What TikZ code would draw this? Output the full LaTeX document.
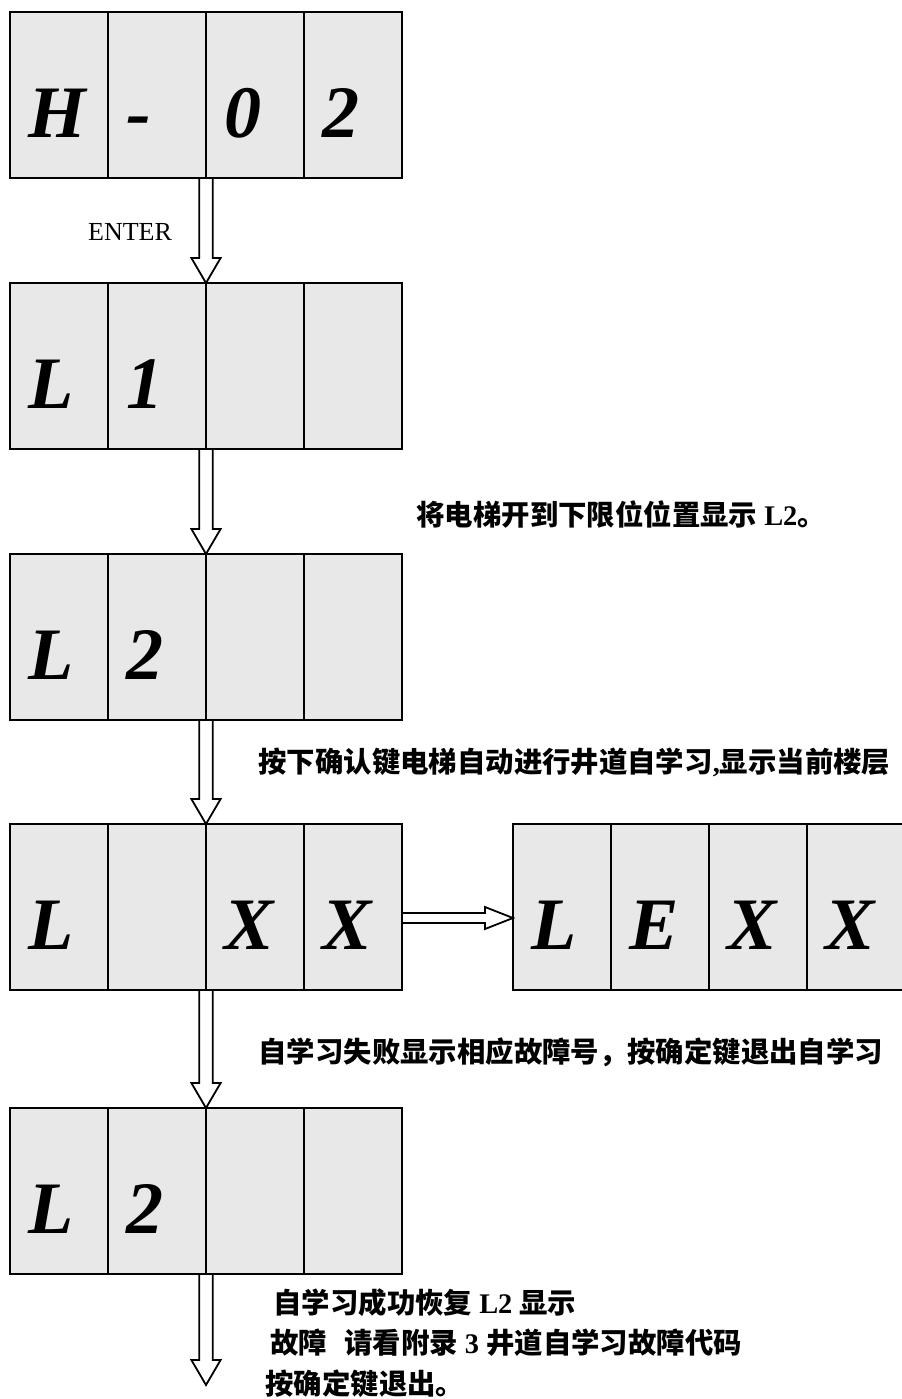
\documentclass[tikz,border=0pt]{standalone}
\usepackage{fontspec}
\setmainfont{Liberation Serif}
\newfontfamily\cjk{Noto Sans CJK SC}
\usetikzlibrary{positioning,calc}
\definecolor{cellgrey}{RGB}{232,232,232}

% hollow block arrows between the displays
\newcommand{\downflow}[2]{%
  \draw[flowline] let \p1=(#1), \p2=(#2) in
    (\x1-3.4pt,\y1) -- (\x1-3.4pt,\y2+12.5pt) -- (\x1-7.3pt,\y2+12.5pt) -- (\x1,\y2)
    -- (\x1+7.3pt,\y2+12.5pt) -- (\x1+3.4pt,\y2+12.5pt) -- (\x1+3.4pt,\y1);}
\newcommand{\rightflow}[2]{%
  \draw[flowline] let \p1=(#1), \p2=(#2) in
    (\x1,\y1+2.5pt) -- (\x2-14pt,\y1+2.5pt) -- (\x2-14pt,\y1+5.5pt) -- (\x2,\y1)
    -- (\x2-14pt,\y1-5.5pt) -- (\x2-14pt,\y1-2.5pt) -- (\x1,\y1-2.5pt);}

\begin{document}
\begin{tikzpicture}[
    digit/.style={draw, line width=1pt, fill=cellgrey, outer sep=0pt,
        minimum width=49pt, minimum height=83pt, inner xsep=9pt,
        text width=31pt, align=left, text height=42pt, text depth=0pt,
        font=\fontsize{37}{37}\selectfont\bfseries\itshape},
    note/.style={anchor=west, inner sep=0pt,
        font=\fontsize{14.2}{17}\selectfont\bfseries},
    flowline/.style={draw, line width=0.9pt, line join=miter}
]
\useasboundingbox (0,0) rectangle (450.5pt,-699.5pt);

% H-02
\node[digit, anchor=north west] (key1) at (5pt,-6pt) {H};
\node[digit, right=0pt of key1] (key2) {-};
\node[digit, right=0pt of key2] (key3) {0};
\node[digit, right=0pt of key3] (key4) {2};

% L1
\node[digit, below=52.5pt of key1] (lone1) {L};
\node[digit, right=0pt of lone1] (lone2) {1};
\node[digit, right=0pt of lone2] (lone3) {};
\node[digit, right=0pt of lone3] (lone4) {};

% L2
\node[digit, below=52.5pt of lone1] (ltwo1) {L};
\node[digit, right=0pt of ltwo1] (ltwo2) {2};
\node[digit, right=0pt of ltwo2] (ltwo3) {};
\node[digit, right=0pt of ltwo3] (ltwo4) {};

% L XX
\node[digit, below=52pt of ltwo1] (lrun1) {L};
\node[digit, right=0pt of lrun1] (lrun2) {};
\node[digit, right=0pt of lrun2] (lrun3) {X};
\node[digit, right=0pt of lrun3] (lrun4) {X};

% LEXX
\node[digit, right=55.5pt of lrun4] (lerr1) {L};
\node[digit, right=0pt of lerr1] (lerr2) {E};
\node[digit, right=0pt of lerr2] (lerr3) {X};
\node[digit, right=0pt of lerr3] (lerr4) {X};

% L2 again
\node[digit, below=59pt of lrun1] (ldone1) {L};
\node[digit, right=0pt of ldone1] (ldone2) {2};
\node[digit, right=0pt of ldone2] (ldone3) {};
\node[digit, right=0pt of ldone3] (ldone4) {};

\coordinate[below=55.5pt of ldone2.south east] (exit);

\downflow{key2.south east}{lone2.north east}
\downflow{lone2.south east}{ltwo2.north east}
\downflow{ltwo2.south east}{lrun2.north east}
\downflow{lrun2.south east}{ldone2.north east}
\downflow{ldone2.south east}{exit}
\rightflow{$(lrun4.east)+(0,-5.5pt)$}{lerr1.west}

\node[font=\fontsize{13}{13}\selectfont] (enter) at (65pt,-116pt) {ENTER};
\node[note] (tolimit) at (208pt,-257pt) {{\cjk 将电梯开到下限位位置显示} L2{\cjk 。}};
\node[note] (learn) at (129pt,-381pt) {{\cjk 按下确认键电梯自动进行井道自学习},{\cjk 显示当前楼层}};
\node[note] (fail) at (129pt,-526pt) {{\cjk 自学习失败显示相应故障号，按确定键退出自学习}};
\node[note] (okay) at (136.5pt,-651.5pt) {{\cjk 自学习成功恢复} L2 {\cjk 显示}};
\node[note] (fault) at (135pt,-671.5pt) {{\cjk 故障\hspace{0.6em}请看附录} 3 {\cjk 井道自学习故障代码}};
\node[note] (quit) at (132.5pt,-692pt) {{\cjk 按确定键退出。}};
\end{tikzpicture}
\end{document}
